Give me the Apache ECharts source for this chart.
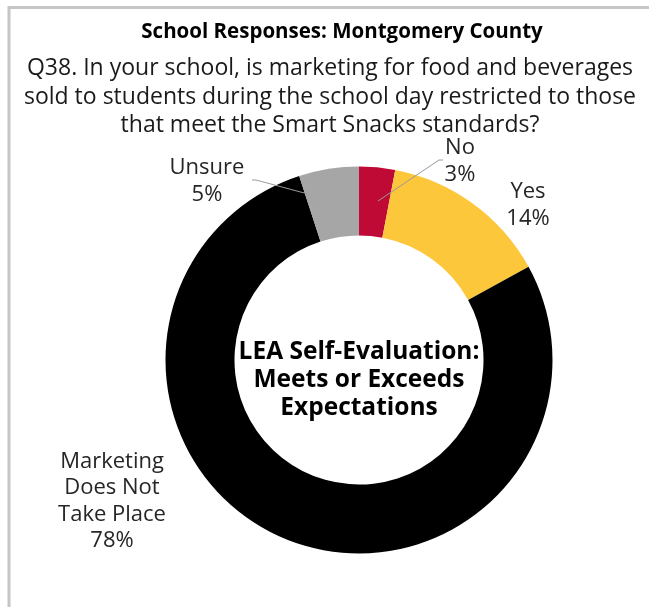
<!DOCTYPE html>
<html>
<head>
<meta charset="utf-8">
<script src="https://cdn.jsdelivr.net/npm/echarts@6/dist/echarts.min.js"></script>
<style>
  html, body { margin: 0; padding: 0; background: #fff; }
  #chart { width: 649px; height: 607px; }
</style>
</head>
<body>
<div id="chart"></div>
<script>
// Data
const categories = ['No', 'Yes', 'Marketing\nDoes Not\nTake Place', 'Unsure']
const percents = [3, 14, 78, 5]
const colors = ['#be0a34', '#fdc73c', '#000000', '#a6a6a6']

// Label anchor positions (px) and leader lines (drawn as graphics)
const labelPos = [[460, 161], [528, 205], [112, 501], [207, 181]]
const leaderLines = [
  [[378, 201], [439, 160], [443, 160]],
  [[308, 194], [256, 180], [252, 180]],
]

const FONT = 'Open Sans'

const chart = echarts.init(document.getElementById('chart'))

chart.setOption({
  animation: false,
  graphic: [
    { type: 'line', shape: { x1: 8, y1: 7.5, x2: 649, y2: 7.5 }, style: { stroke: '#c6c6c6', lineWidth: 3 } },
    { type: 'line', shape: { x1: 9, y1: 6, x2: 9, y2: 607 }, style: { stroke: '#c6c6c6', lineWidth: 3 } },
    ...leaderLines.map(pts => ({
      type: 'polyline', z: 10,
      shape: { points: pts },
      style: { stroke: '#9a9a9a', lineWidth: 1, fill: null },
    })),
    {
      type: 'text', x: 342, y: 32,
      style: {
        text: 'School Responses: Montgomery County',
        fontFamily: FONT, fontWeight: 'bold', fontSize: 20.5,
        fill: '#000', align: 'center', verticalAlign: 'middle',
      },
    },
    {
      type: 'text', x: 330, y: 97,
      style: {
        text: 'Q38. In your school, is marketing for food and beverages\nsold to students during the school day restricted to those\nthat meet the Smart Snacks standards?',
        fontFamily: FONT, fontSize: 23, lineHeight: 28.5,
        fill: '#1a1a1a', align: 'center', verticalAlign: 'middle',
      },
    },
    {
      type: 'text', x: 359, y: 380,
      style: {
        text: 'LEA Self-Evaluation:\nMeets or Exceeds\nExpectations',
        fontFamily: FONT, fontWeight: 'bold', fontSize: 24.5, lineHeight: 28,
        fill: '#000', align: 'center', verticalAlign: 'middle',
      },
    },
  ],
  series: [{
    type: 'pie',
    center: [359, 360],
    radius: [124.5, 193.5],
    startAngle: 90,
    clockwise: true,
    avoidLabelOverlap: false,
    data: categories.map((name, i) => ({
      name,
      value: percents[i],
      itemStyle: { color: colors[i] },
    })),
    label: {
      show: true,
      position: 'outside',
      formatter: p => p.name + '\n' + p.value + '%',
      fontFamily: FONT,
      fontSize: 22,
      lineHeight: 26.5,
      color: '#262626',
    },
    labelLine: { show: false },
    labelLayout: params => {
      const i = params.dataIndex
      return {
        x: labelPos[i][0],
        y: labelPos[i][1],
        align: 'center',
        verticalAlign: 'middle',
      }
    },
    emphasis: { disabled: true },
  }],
})
</script>
</body>
</html>
